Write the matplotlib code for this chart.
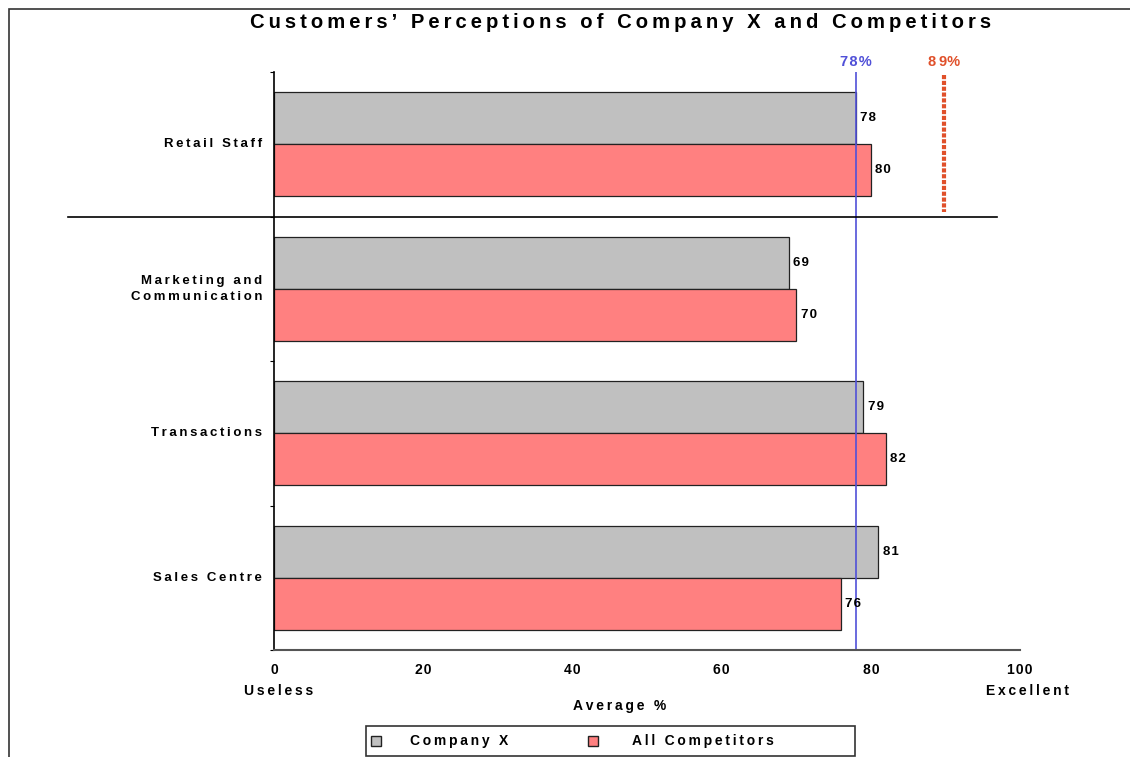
import numpy as np
import matplotlib.pyplot as plt
from matplotlib.patches import Rectangle
from matplotlib.lines import Line2D

plt.rcParams["font.family"] = ["Liberation Sans", "DejaVu Sans"]

categories = ["Retail Staff", "Marketing and\nCommunication", "Transactions", "Sales Centre"]
company_x = [78, 69, 79, 81]
competitors = [80, 70, 82, 76]
company_avg = 78
competitor_best = 89
x_ticks = [0, 20, 40, 60, 80, 100]
series_names = ["Company X", "All Competitors"]

gray = "#C0C0C0"
pink = "#FF8080"
blue = "#5050D8"
orange = "#E0502A"


def tracked(s, sep="\u2009"):
    # the original export has very loose letter spacing
    return "\n".join(sep.join(line) for line in s.split("\n"))


fig = plt.figure(figsize=(11.3, 7.57), dpi=100)
ax = fig.add_axes([0.2425, 0.1413, 0.6602, 0.7636])

# outer frame (only left/top visible in the reference)
fig.patches.append(Rectangle((9 / 1130, -0.1), 1.2, 1 - 9 / 757 + 0.1,
                             transform=fig.transFigure, fill=False,
                             edgecolor="#333333", linewidth=1.2))

y = np.arange(len(categories))
h = 0.36
ax.barh(y - h / 2, company_x, height=h, color=gray, edgecolor="#222222", linewidth=0.9)
ax.barh(y + h / 2, competitors, height=h, color=pink, edgecolor="#222222", linewidth=0.9)

for yi, v in zip(y, company_x):
    ax.text(v + 0.6, yi - h / 2, tracked(f"{v}", "\u200a"), va="center", ha="left",
            fontsize=9.5, fontweight="bold")
for yi, v in zip(y, competitors):
    ax.text(v + 0.6, yi + h / 2, tracked(f"{v}", "\u200a"), va="center", ha="left",
            fontsize=9.5, fontweight="bold")

ax.set_xlim(0, 100)
ax.set_ylim(len(categories) - 0.5, -0.5)

# reference lines
ax.axvline(company_avg, color=blue, linewidth=1.2)
ax.text(company_avg, -0.57, tracked(f"{company_avg}%", "\u200a"), color=blue, ha="center",
        va="center", fontsize=10.5, fontweight="bold")
ax.plot([competitor_best + 0.8] * 2, [-0.48, 0.47], color=orange, linewidth=3,
        linestyle=(0, (1, 0.4)))
ax.text(competitor_best + 0.8, -0.57, tracked(f"{competitor_best}") + "%", color=orange,
        ha="center", va="center", fontsize=10.5, fontweight="bold")

# separator under Retail Staff
ax.plot([-27.6, 96.9], [0.5, 0.5], color="black", linewidth=1.2, clip_on=False)

ax.set_xticks(x_ticks)
ax.set_xticklabels([tracked(str(t), "\u200a") for t in x_ticks], fontsize=10,
                   fontweight="bold")
ax.tick_params(axis="x", length=0, pad=9)
ax.set_yticks(np.arange(-0.5, len(categories), 1.0))
ax.set_yticklabels([])
ax.tick_params(axis="y", length=3, direction="out")
for yi, lab in zip(y, categories):
    ax.text(-1.6, yi, tracked(lab), ha="right", va="center", fontsize=9.5, fontweight="bold",
            linespacing=1.4)

ax.spines["top"].set_visible(False)
ax.spines["right"].set_visible(False)
ax.spines["bottom"].set_color("#555555")
ax.spines["bottom"].set_linewidth(1.5)
ax.spines["left"].set_linewidth(1.2)

fig.text(279 / 1130, 1 - 691 / 757, tracked("Useless"), ha="center", va="center",
         fontsize=10, fontweight="bold")
fig.text(1027 / 1130, 1 - 691 / 757, tracked("Excellent"), ha="center", va="center",
         fontsize=10, fontweight="bold")
fig.text(620 / 1130, 1 - 706 / 757, tracked("Average %"), ha="center", va="center",
         fontsize=10, fontweight="bold")

fig.text(621 / 1130, 1 - 22 / 757,
         tracked("Customers’ Perceptions of Company X and Competitors"),
         ha="center", va="center", fontsize=14.6, fontweight="bold")

# legend box drawn in figure pixels to match the wide Excel-style legend
W, H = 1130, 757
fig.patches.append(Rectangle((366 / W, 1 - 756 / H), 489 / W, 30 / H,
                             transform=fig.transFigure, fill=False,
                             edgecolor="#333333", linewidth=1.2))
for name, color, mx, tx in zip(series_names, [gray, pink], [376, 593], [410, 632]):
    fig.add_artist(Line2D([mx / W], [1 - 741 / H], marker="s", markersize=7,
                          markerfacecolor=color, markeredgecolor="#222222",
                          linestyle="none", transform=fig.transFigure))
    fig.text(tx / W, 1 - 741 / H, tracked(name), ha="left", va="center", fontsize=10,
             fontweight="bold")

fig.savefig("out.png", dpi=100)
